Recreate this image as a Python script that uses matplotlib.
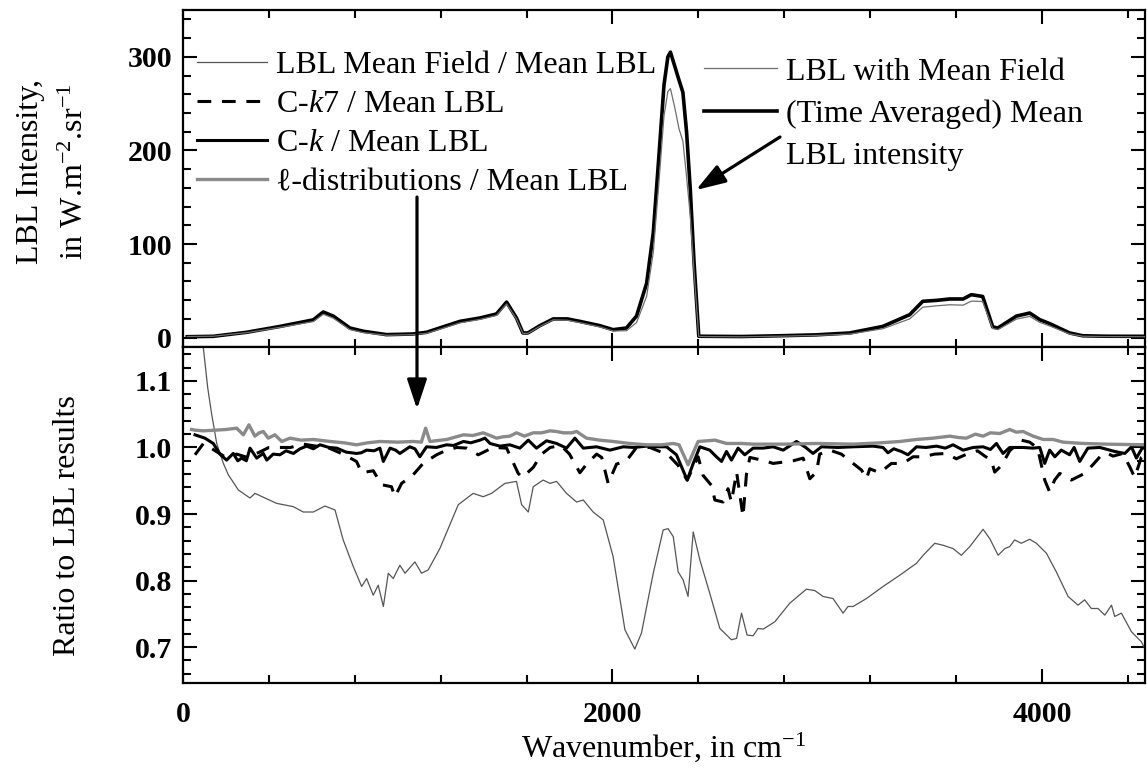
import matplotlib
matplotlib.use('Agg')
import matplotlib.pyplot as plt
from matplotlib.ticker import MultipleLocator
from matplotlib.lines import Line2D
from matplotlib.patches import FancyArrowPatch

plt.rcParams['font.family'] = ['Liberation Serif', 'DejaVu Serif']
plt.rcParams['mathtext.fontset'] = 'custom'
plt.rcParams['mathtext.rm'] = 'Liberation Serif'
plt.rcParams['mathtext.it'] = 'Liberation Serif:italic'
plt.rcParams['mathtext.bf'] = 'Liberation Serif:bold'

# ---------------- data ----------------
# Top panel: intensities (W m-2 sr-1)
top_wn = [20, 140, 296, 452, 607, 653, 700, 777, 840, 948, 1071, 1134, 1228, 1290,
          1383, 1460, 1507, 1553, 1583, 1606, 1662, 1724, 1790, 1848, 1941, 2003,
          2065, 2112, 2159, 2190, 2215, 2240, 2258, 2270, 2290, 2310, 2328, 2345,
          2362, 2380, 2402, 2600, 2795, 2950, 3105, 3259, 3384, 3445, 3509, 3571,
          3633, 3671, 3724, 3771, 3795, 3881, 3943, 3990, 4036, 4129, 4190, 4300, 4488]
mean_lbl = [1.0, 1.4, 5.7, 12, 19, 27.4, 23, 10.3, 6.8, 3.2, 3.9, 5.7, 12.8, 17.4,
            21, 25.3, 38, 21, 5, 5, 12.8, 20, 20, 17.4, 12.8, 8.5,
            10.3, 23, 58, 112, 190, 270, 300, 305, 290, 275, 262, 220,
            160, 80, 1.5, 1.2, 2.1, 3.0, 5, 12, 24.5, 38.8, 39.8, 41.3,
            41.3, 45.9, 44, 11.4, 10.3, 23, 26.3, 19.2, 15, 5, 2, 1.5, 1.4]
mean_field = [1.2, 1.5, 5.3, 11, 17.2, 25, 20.8, 8.6, 5.4, 2.5, 3.2, 4.6, 11.3, 15.8,
              19.5, 23.7, 36, 20, 4.6, 4.5, 12.1, 19, 18.6, 16, 11.5, 7.1,
              7.4, 16.1, 44, 91, 162, 237, 263, 266, 246, 223, 210, 172,
              131, 70, 1.2, 0.9, 1.6, 2.4, 3.8, 9.5, 20, 32.5, 34, 35.1,
              34.7, 39, 38.6, 9.7, 8.6, 19.8, 22.7, 16.3, 12.5, 3.9, 1.5, 1.1, 1.0]

# Bottom panel: ratios to mean LBL
mf_wn = [56, 80, 95, 115, 133, 157, 188, 211, 258, 312, 335, 382, 436, 514, 560, 607,
         661, 708, 746, 793, 832, 855, 886, 909, 933, 956, 979, 1010, 1034, 1080,
         1111, 1142, 1196, 1282, 1351, 1398, 1437, 1499, 1553, 1577, 1608, 1631,
         1677, 1709, 1740, 1786, 1833, 1864, 1910, 1957, 2003, 2058, 2104, 2135,
         2190, 2236, 2259, 2283, 2306, 2329, 2352, 2376, 2407, 2453, 2500, 2554,
         2578, 2601, 2627, 2655, 2678, 2702, 2756, 2826, 2903, 2942, 2981, 3027,
         3074, 3097, 3121, 3183, 3260, 3338, 3416, 3447, 3501, 3540, 3586, 3625,
         3664, 3726, 3757, 3796, 3827, 3850, 3873, 3904, 3943, 3974, 4021, 4067,
         4122, 4168, 4199, 4230, 4261, 4293, 4324, 4339, 4370, 4417, 4463, 4486]
mf_ratio = [1.45, 1.22, 1.149, 1.09, 1.051, 1.006, 0.976, 0.959, 0.936, 0.924, 0.931,
            0.924, 0.916, 0.911, 0.903, 0.903, 0.912, 0.906, 0.861, 0.821, 0.791,
            0.803, 0.778, 0.793, 0.761, 0.811, 0.803, 0.823, 0.811, 0.828, 0.811,
            0.816, 0.848, 0.914, 0.931, 0.926, 0.931, 0.946, 0.949, 0.914, 0.903,
            0.941, 0.951, 0.946, 0.949, 0.931, 0.918, 0.921, 0.903, 0.891, 0.836,
            0.726, 0.697, 0.721, 0.811, 0.876, 0.878, 0.866, 0.813, 0.801, 0.776,
            0.873, 0.831, 0.781, 0.728, 0.711, 0.713, 0.751, 0.718, 0.717, 0.728,
            0.727, 0.738, 0.766, 0.787, 0.785, 0.776, 0.773, 0.751, 0.761, 0.761,
            0.773, 0.791, 0.808, 0.826, 0.838, 0.856, 0.853, 0.848, 0.838, 0.851,
            0.877, 0.863, 0.838, 0.848, 0.851, 0.861, 0.856, 0.862, 0.856, 0.841,
            0.813, 0.776, 0.763, 0.771, 0.758, 0.758, 0.748, 0.763, 0.746, 0.751,
            0.723, 0.708, 0.693]

ck7_wn = [56, 95, 150, 200, 250, 300, 350, 400, 450, 500, 560, 620, 680, 745, 808,
          832, 886, 925, 971, 987, 1018, 1072, 1118, 1181, 1228, 1275, 1321, 1375,
          1444, 1507, 1561, 1580, 1631, 1670, 1710, 1760, 1800, 1848, 1880, 1926,
          1950, 1980, 2019, 2065, 2112, 2174, 2259, 2306, 2348, 2399, 2422, 2461,
          2477, 2515, 2538, 2554, 2578, 2608, 2624, 2640, 2709, 2748, 2795, 2842,
          2888, 2919, 2950, 2965, 3012, 3066, 3113, 3160, 3183, 3198, 3245, 3299,
          3353, 3400, 3447, 3500, 3555, 3601, 3650, 3700, 3734, 3764, 3780, 3812,
          3850, 3904, 3943, 3980, 4013, 4036, 4059, 4083, 4137, 4199, 4240, 4270,
          4300, 4331, 4377, 4409, 4432, 4463, 4486]
ck7_ratio = [0.989, 1.006, 0.995, 0.985, 0.99, 0.985, 0.992, 1.0, 1.0, 1.0, 1.005,
             1.002, 0.999, 0.99, 0.979, 0.962, 0.965, 0.944, 0.941, 0.926, 0.946,
             0.959, 0.976, 0.989, 0.996, 1.0, 0.999, 0.989, 1.0, 0.999, 0.961, 0.955,
             0.970, 0.99, 1.0, 1.003, 0.99, 0.962, 0.975, 0.99, 0.985, 0.946, 0.975,
             0.98, 1.0, 1.0, 0.989, 0.973, 0.951, 0.986, 0.958, 0.943, 0.921, 0.918,
             0.938, 0.918, 0.963, 0.896, 0.96, 0.985, 0.98, 0.976, 0.978, 0.98,
             0.984, 0.953, 0.963, 0.99, 0.996, 0.99, 0.978, 0.966, 0.953, 0.968,
             0.962, 0.976, 0.976, 0.986, 0.986, 0.99, 0.991, 0.983, 0.99, 0.995,
             0.987, 0.981, 0.963, 0.973, 0.995, 1.011, 1.008, 0.999, 0.951, 0.933,
             0.951, 0.961, 0.951, 0.961, 0.975, 0.986, 0.992, 0.987, 0.991, 0.971,
             0.955, 0.985, 0.99]

ck_wn = [56, 102, 141, 172, 203, 234, 255, 273, 295, 312, 343, 374, 390, 420, 451,
         480, 514, 545, 576, 607, 638, 680, 716, 760, 808, 830, 855, 890, 917, 933,
         964, 990, 1010, 1056, 1080, 1103, 1134, 1180, 1228, 1260, 1306, 1340, 1383,
         1406, 1430, 1476, 1522, 1569, 1608, 1646, 1693, 1740, 1786, 1825, 1864,
         1926, 1988, 2050, 2100, 2159, 2220, 2252, 2298, 2348, 2376, 2407, 2453,
         2484, 2508, 2531, 2554, 2585, 2616, 2655, 2702, 2748, 2795, 2857, 2900,
         2934, 2973, 3050, 3121, 3214, 3260, 3283, 3310, 3345, 3376, 3416, 3460,
         3509, 3550, 3586, 3633, 3680, 3726, 3760, 3788, 3819, 3850, 3912, 3959,
         3990, 4013, 4036, 4060, 4090, 4129, 4150, 4176, 4214, 4270, 4339, 4386,
         4417, 4440, 4470, 4486]
ck_ratio = [1.019, 1.014, 1.006, 0.99, 0.981, 0.991, 0.98, 0.984, 0.98, 0.999, 0.984,
            0.991, 0.981, 0.99, 0.989, 0.995, 0.991, 0.998, 1.002, 0.998, 1.004, 1.0,
            0.999, 0.993, 0.991, 0.992, 0.996, 0.995, 0.999, 0.979, 0.999, 0.996,
            0.991, 1.001, 0.998, 0.986, 1.001, 1.0, 1.004, 1.003, 1.009, 1.007, 1.011,
            1.014, 1.006, 1.002, 1.004, 0.999, 1.011, 0.999, 1.010, 1.006, 0.999,
            1.014, 0.999, 1.001, 0.996, 1.001, 1.0, 1.002, 1.001, 1.001, 0.989, 0.951,
            0.976, 1.001, 0.996, 0.986, 0.979, 0.994, 0.981, 0.999, 0.989, 0.999,
            0.999, 1.001, 0.996, 1.009, 1.0, 0.991, 1.001, 1.0, 1.001, 1.002, 1.0,
            0.992, 0.998, 0.994, 0.989, 1.001, 1.0, 1.002, 0.999, 1.004, 0.996, 1.0,
            1.001, 0.997, 1.006, 0.991, 1.0, 1.0, 0.999, 1.0, 0.976, 0.996, 0.986,
            0.996, 0.989, 1.0, 0.979, 0.999, 1.0, 0.994, 0.991, 1.001, 0.984, 1.001,
            0.996]

ell_wn = [40, 56, 95, 150, 200, 250, 281, 307, 335, 355, 374, 397, 428, 460, 498,
          550, 607, 685, 750, 808, 860, 917, 1000, 1072, 1110, 1130, 1150, 1228,
          1306, 1350, 1398, 1430, 1460, 1490, 1522, 1553, 1590, 1631, 1670, 1709,
          1740, 1771, 1810, 1833, 1879, 1940, 2003, 2080, 2159, 2230, 2283, 2310,
          2352, 2380, 2399, 2440, 2477, 2531, 2600, 2655, 2750, 2810, 2950, 3121,
          3250, 3338, 3416, 3493, 3571, 3610, 3648, 3690, 3726, 3760, 3804, 3850,
          3881, 3912, 3959, 4006, 4052, 4098, 4192, 4300, 4486]
ell_ratio = [1.027, 1.026, 1.025, 1.026, 1.027, 1.029, 1.019, 1.034, 1.017, 1.022,
             1.024, 1.014, 1.019, 1.009, 1.014, 1.011, 1.012, 1.009, 1.007, 1.004,
             1.007, 1.009, 1.008, 1.009, 1.008, 1.029, 1.009, 1.012, 1.019, 1.018,
             1.022, 1.018, 1.014, 1.016, 1.017, 1.022, 1.017, 1.022, 1.022, 1.025,
             1.024, 1.022, 1.022, 1.024, 1.014, 1.011, 1.009, 1.006, 1.004, 1.004,
             1.006, 1.004, 0.974, 0.995, 1.009, 1.01, 1.011, 1.006, 1.006, 1.005,
             1.005, 1.005, 1.006, 1.005, 1.007, 1.009, 1.012, 1.014, 1.017, 1.015,
             1.014, 1.02, 1.017, 1.022, 1.021, 1.027, 1.023, 1.024, 1.017, 1.012,
             1.012, 1.008, 1.006, 1.005, 1.004]

top_labels = ["LBL with Mean Field", "(Time Averaged) Mean", "LBL intensity"]
bottom_labels = ["LBL Mean Field / Mean LBL", "C-$k$7 / Mean LBL",
                 "C-$k$ / Mean LBL", "\u2113-distributions / Mean LBL"]

# ---------------- figure ----------------
W, H = 1147, 774
fig = plt.figure(figsize=(W / 100, H / 100), dpi=100)
L, R = 183, 1145
ax1 = fig.add_axes([L / W, 1 - 347 / H, (R - L) / W, (347 - 10) / H])
ax2 = fig.add_axes([L / W, 1 - 683 / H, (R - L) / W, (683 - 347) / H], sharex=ax1)

thin_c = '#555555'
gray_c = '#8a8a8a'
FS = 23

ln_mf, = ax1.plot(top_wn, mean_field, color='#6e6e6e', lw=0.9, zorder=3)
ln_mean, = ax1.plot(top_wn, mean_lbl, color='black', lw=2.6, zorder=2)

b1, = ax2.plot(mf_wn, mf_ratio, color=thin_c, lw=0.9)
b2, = ax2.plot(ck7_wn, ck7_ratio, color='black', lw=2.2, dashes=(4.5, 3.5))
b3, = ax2.plot(ck_wn, ck_ratio, color='black', lw=2.2)
b4, = ax2.plot(ell_wn, ell_ratio, color=gray_c, lw=2.4)

ax1.set_ylim(-10, 350)
ax2.set_ylim(0.646, 1.151)
ax2.set_xlim(0, 4480)

ax2.xaxis.set_major_locator(MultipleLocator(2000))
ax2.xaxis.set_minor_locator(MultipleLocator(400))
ax1.yaxis.set_major_locator(MultipleLocator(100))
ax1.yaxis.set_minor_locator(MultipleLocator(20))
ax2.yaxis.set_major_locator(MultipleLocator(0.1))
ax2.yaxis.set_minor_locator(MultipleLocator(0.02))
ax2.yaxis.set_major_formatter(plt.FormatStrFormatter('%.1f'))

for ax in (ax1, ax2):
    ax.tick_params(which='both', direction='in', top=True, right=True,
                   width=1.5, labelsize=21.5)
    ax.tick_params(which='major', length=10)
    ax.tick_params(which='minor', length=5.5)
    ax.tick_params(axis='y', pad=8)
    ax.tick_params(axis='x', pad=13)
    for s in ax.spines.values():
        s.set_linewidth(1.6)
ax1.tick_params(labelbottom=False)

ax1.set_ylabel("LBL Intensity,\nin W.m$^{-2}$.sr$^{-1}$", fontsize=FS,
               linespacing=1.7)
ax1.yaxis.set_label_coords((90 - L) / (R - L), 0.52)
ax2.set_ylabel("Ratio to LBL results", fontsize=FS)
ax2.yaxis.set_label_coords((82 - L) / (R - L), 0.47)
ax2.set_xlabel("Wavenumber, in cm$^{-1}$", fontsize=FS)
ax2.xaxis.set_label_coords(0.5, -0.14)

prop = {'size': FS}
h_left = [Line2D([], [], color=thin_c, lw=0.9),
          Line2D([], [], color='black', lw=2.2, dashes=(4.5, 3.5)),
          Line2D([], [], color='black', lw=2.2),
          Line2D([], [], color=gray_c, lw=2.4)]
leg1 = ax1.legend(h_left, bottom_labels, loc='upper left', prop=prop, frameon=False,
                  bbox_to_anchor=((197 - L) / (R - L), 0.878), borderpad=0,
                  borderaxespad=0, handlelength=2.2, handletextpad=0.28,
                  labelspacing=0.30)
ax1.add_artist(leg1)
h_right = [Line2D([], [], color='#6e6e6e', lw=0.9),
           Line2D([], [], color='black', lw=2.6),
           Line2D([], [], lw=0)]
ax1.legend(h_right, top_labels, loc='upper left', prop=prop, frameon=False,
           bbox_to_anchor=((704 - L) / (R - L), 0.86), borderpad=0,
           borderaxespad=0, handlelength=2.3, handletextpad=0.28,
           labelspacing=0.40)

# arrows (figure pixel positions)
def fp(x, y):
    return (x / W, 1 - y / H)

for a, b in [((417, 197), (417, 409)), ((780, 137), (696, 190))]:
    arr = FancyArrowPatch(fp(*a), fp(*b), transform=fig.transFigure,
                          arrowstyle='-|>,head_length=0.9,head_width=0.3',
                          mutation_scale=20, lw=2.3, color='black',
                          shrinkA=0, shrinkB=0, zorder=10)
    fig.add_artist(arr)

fig.canvas.draw()
for ax in (ax1, ax2):
    for t in ax.get_xticklabels() + ax.get_yticklabels():
        t.set_fontweight('bold')

fig.savefig('out.png', dpi=100)
